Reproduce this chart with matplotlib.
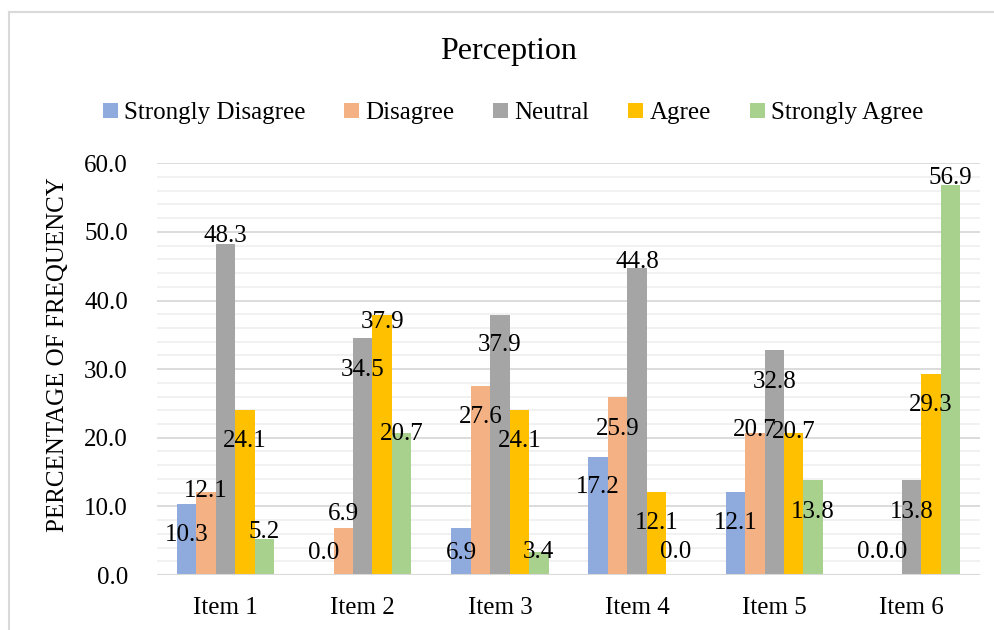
import matplotlib
matplotlib.use("Agg")
import matplotlib.pyplot as plt
import numpy as np
from matplotlib.patches import Patch
from matplotlib.lines import Line2D

# ---- data ----
items = ["Item 1", "Item 2", "Item 3", "Item 4", "Item 5", "Item 6"]
series_names = ["Strongly Disagree", "Disagree", "Neutral", "Agree", "Strongly Agree"]
strongly_disagree = [10.3, 0.0, 6.9, 17.2, 12.1, 0.0]
disagree = [12.1, 6.9, 27.6, 25.9, 20.7, 0.0]
neutral = [48.3, 34.5, 37.9, 44.8, 32.8, 13.8]
agree = [24.1, 37.9, 24.1, 12.1, 20.7, 29.3]
strongly_agree = [5.2, 20.7, 3.4, 0.0, 13.8, 56.9]
yticks = [0, 10, 20, 30, 40, 50, 60]

# ---- style ----
colors = ["#8FAADC", "#F4B183", "#A5A5A5", "#FFC000", "#A9D18E"]
# label vertical offsets (data units) relative to bar value, mimicking Excel placement
label_offsets = [
    [-4.1, 3.6, -3.3, -4.1, -4.2, 3.7],
    [0.5, 2.3, -4.3, -4.3, 0.75, 3.7],
    [1.5, -4.3, -4.1, 1.2, -4.3, -4.3],
    [-4.2, -0.7, -4.2, -4.2, 0.5, -4.2],
    [1.35, 0.2, 0.3, 3.7, -4.3, 1.35],
]

plt.rcParams["font.family"] = ["Liberation Serif", "DejaVu Serif"]
W, H = 995, 630
fig = plt.figure(figsize=(W / 100, H / 100), dpi=100)
ax = fig.add_axes([157 / W, 1 - 575 / H, (980 - 157) / W, (575 - 163.3) / H])

data = [strongly_disagree, disagree, neutral, agree, strongly_agree]
x = np.arange(len(items))
bw = 0.142
for i, (name, vals) in enumerate(zip(series_names, data)):
    pos = x + (i - 2) * bw
    ax.bar(pos, vals, width=bw, color=colors[i], label=name, zorder=3)
    for px, v, off in zip(pos, vals, label_offsets[i]):
        ax.annotate(f"{v:.1f}", xy=(px, v + off), xytext=(0, -6),
                    textcoords="offset points", ha="center", va="baseline",
                    fontsize=18, color="#000000", zorder=5, annotation_clip=False)

ax.set_xlim(-0.5, len(items) - 0.5)
ax.set_ylim(0, 60)
ax.set_yticks(yticks)
ax.set_yticklabels([f"{t:.1f}" for t in yticks])
ax.set_yticks(np.arange(0, 61, 2), minor=True)
ax.set_xticks(x)
ax.set_xticklabels(items)
ax.tick_params(axis="both", which="both", length=0, labelsize=18, colors="#000000")
ax.tick_params(axis="y", pad=21)
ax.tick_params(axis="x", pad=16)
ax.grid(axis="y", which="minor", color="#F0F0F0", lw=1.3, zorder=0)
ax.grid(axis="y", which="major", color="#D9D9D9", lw=1.3, zorder=1)
for s in ax.spines.values():
    s.set_visible(False)
ax.axhline(0, color="#D9D9D9", lw=1.5, zorder=4)

fig.text(58 / W, 1 - 355 / H, "PERCENTAGE OF FREQUENCY", rotation=90,
         ha="center", va="center", fontsize=18)
fig.text(509 / W, 1 - 52 / H, "Perception", ha="center", va="center", fontsize=23)

handles = [Patch(facecolor=c, edgecolor="none") for c in colors]
fig.legend(handles, series_names, loc="center", bbox_to_anchor=(513 / W, 1 - 113 / H),
           ncol=5, frameon=False, fontsize=18, handlelength=0.6, handleheight=0.55,
           handletextpad=0.25, columnspacing=1.55, borderpad=0, borderaxespad=0)

# chart border
fig.add_artist(Line2D([9 / W, 1], [1 - 12 / H, 1 - 12 / H], color="#D9D9D9", lw=1.5,
                      transform=fig.transFigure))
fig.add_artist(Line2D([9 / W, 9 / W], [0, 1 - 12 / H], color="#D9D9D9", lw=1.5,
                      transform=fig.transFigure))

fig.savefig("out.png", dpi=100)
